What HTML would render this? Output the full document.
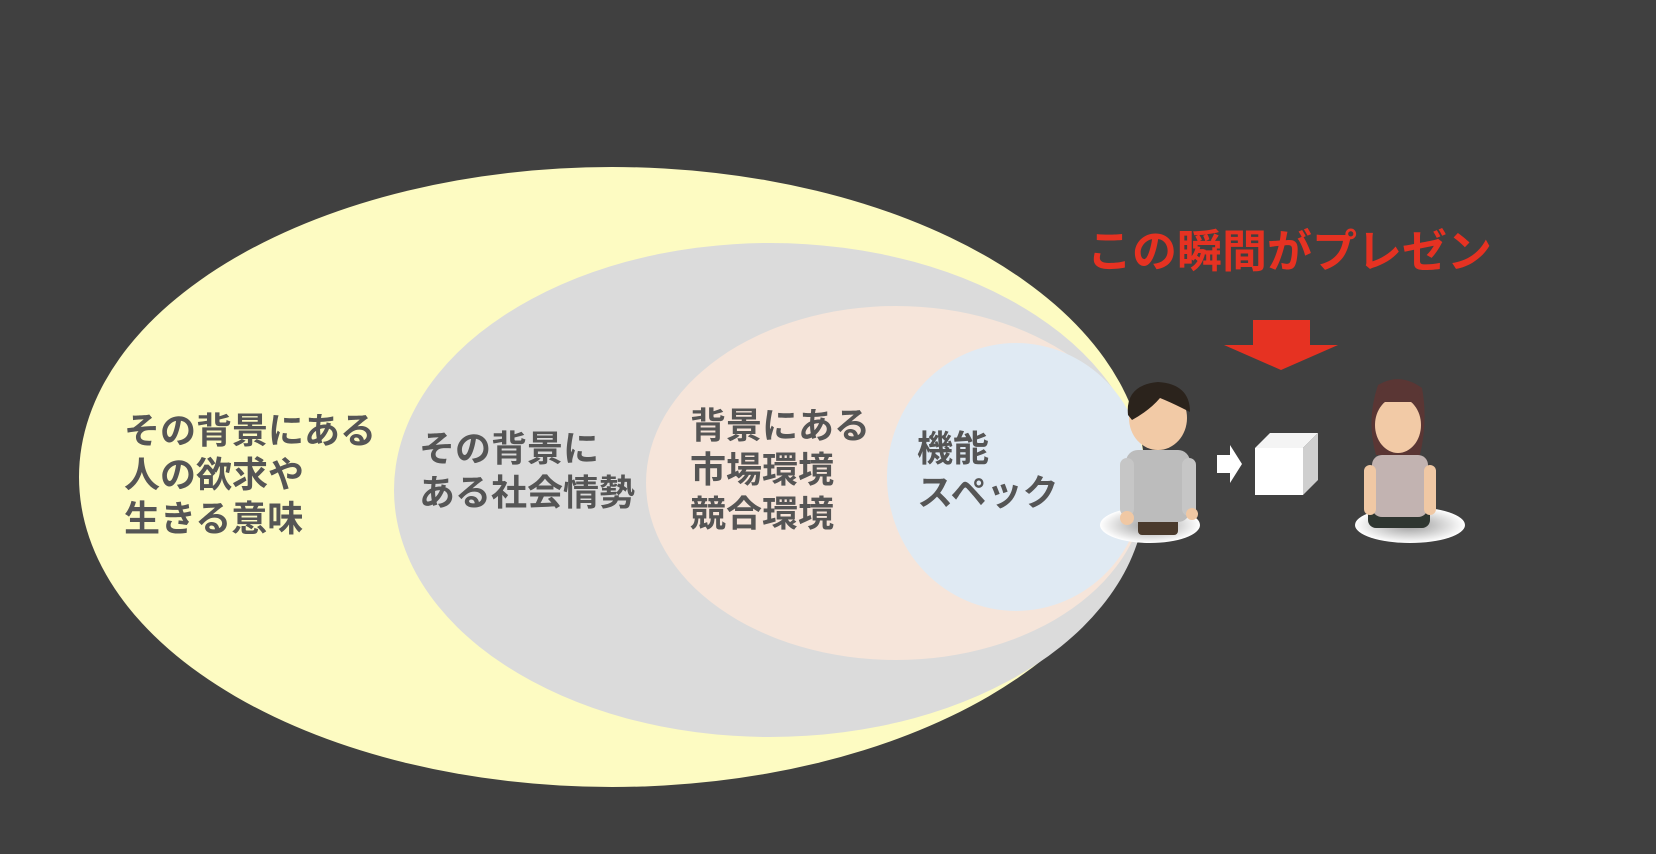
<!DOCTYPE html>
<html><head><meta charset="utf-8"><style>
body{margin:0;background:#404040;}
.t{position:absolute;font-family:"Liberation Sans","Noto Sans CJK JP",sans-serif;font-weight:bold;color:#555;font-size:36px;line-height:44px;white-space:nowrap;}
</style></head><body>
<div style="position:relative;width:1656px;height:854px;overflow:hidden;background:#404040">
<svg width="1656" height="854" style="position:absolute;left:0;top:0">
<defs>
<radialGradient id="sh"><stop offset="0" stop-color="#999"/><stop offset="1" stop-color="#fff"/></radialGradient>
</defs>
<ellipse cx="612" cy="477" rx="533" ry="310" fill="#fdfbc2"/>
<ellipse cx="770" cy="490" rx="376" ry="247" fill="#dbdbdb"/>
<ellipse cx="896" cy="483" rx="250" ry="177" fill="#f6e5da"/>
<ellipse cx="1016" cy="477" rx="129" ry="134" fill="#e0eaf3"/>
<rect x="1253" y="320" width="57" height="26" fill="#e63222"/>
<polygon points="1224,345 1338,345 1281,370" fill="#e63222"/>
<polygon points="1217,455 1230,455 1230,445 1242,464 1230,483 1230,473 1217,473" fill="#fff"/>
<polygon points="1255,448 1270,433 1318,433 1303,448" fill="#f4f4f4"/>
<polygon points="1303,448 1318,433 1318,480 1303,495" fill="#cfcfcf"/>
<rect x="1255" y="448" width="48" height="47" fill="#fff"/>
<ellipse cx="1150" cy="525" rx="50" ry="18" fill="url(#sh)"/>
<rect x="1138" y="515" width="40" height="20" rx="4" fill="#4a3a2c"/>
<rect x="1126" y="450" width="64" height="72" rx="12" fill="#bcbcbc"/>
<rect x="1120" y="458" width="14" height="58" rx="7" fill="#c6c6c6"/>
<rect x="1182" y="458" width="14" height="58" rx="7" fill="#c6c6c6"/>
<circle cx="1127" cy="518" r="7" fill="#f0c8a4"/>
<circle cx="1192" cy="514" r="6" fill="#f0c8a4"/>
<ellipse cx="1158" cy="418" rx="29" ry="32" fill="#f2caa6"/>
<path d="M1128,415 Q1125,385 1158,382 Q1190,384 1190,412 L1182,408 Q1170,402 1160,398 Q1150,410 1132,420 Z" fill="#2b231c"/>
<ellipse cx="1410" cy="525" rx="55" ry="18" fill="url(#sh)"/>
<rect x="1368" y="500" width="62" height="28" rx="8" fill="#2f3631"/>
<path d="M1378,385 Q1400,372 1422,388 Q1428,420 1420,455 L1376,455 Q1366,420 1378,385 Z" fill="#5a3634"/>
<ellipse cx="1398" cy="425" rx="23" ry="28" fill="#f2caa6"/>
<path d="M1376,402 Q1380,384 1400,384 Q1420,386 1422,402 Z" fill="#5a3634"/>
<rect x="1372" y="455" width="56" height="62" rx="10" fill="#c2b3b1"/>
<rect x="1364" y="465" width="12" height="50" rx="6" fill="#f0c8a4"/>
<rect x="1424" y="465" width="12" height="50" rx="6" fill="#f0c8a4"/>
</svg>
<div class="t" style="left:124px;top:409px">その背景にある<br>人の欲求や<br>生きる意味</div>
<div class="t" style="left:419px;top:427px">その背景に<br>ある社会情勢</div>
<div class="t" style="left:690px;top:404px">背景にある<br>市場環境<br>競合環境</div>
<div class="t" style="left:917px;top:427px">機能<br>スペック</div>
<div class="t" style="left:1087px;top:225px;color:#e63222;font-size:45px;line-height:54px">この瞬間がプレゼン</div>
</div>
</body></html>
